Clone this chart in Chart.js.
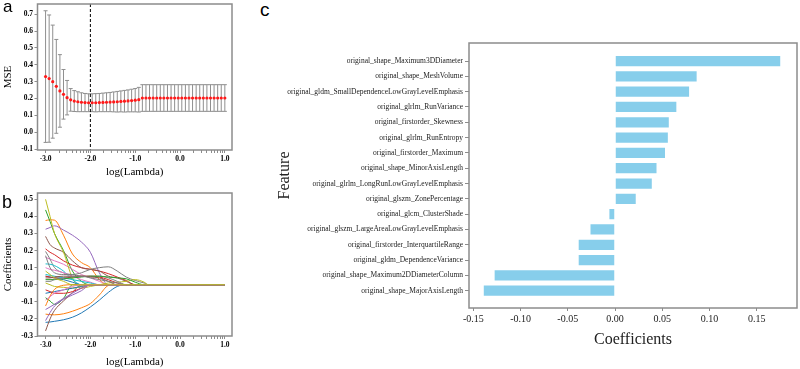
<!DOCTYPE html>
<html>
<head>
<meta charset="utf-8">
<script src="https://cdn.jsdelivr.net/npm/chart.js@4.4.1/dist/chart.umd.min.js"></script>
<style>
  html, body { margin: 0; padding: 0; background: #fff; }
  body { width: 800px; height: 369px; position: relative; overflow: hidden; }
  canvas { position: absolute; }
  .tag { position: absolute; font-family: 'Liberation Sans', Arial, sans-serif; color: #000; line-height: 1; }
</style>
</head>
<body>
<canvas id="mseChart" width="240" height="182" style="left:0;top:0"></canvas>
<canvas id="pathChart" width="240" height="187" style="left:0;top:182px"></canvas>
<canvas id="coefChart" width="530" height="369" style="left:270px;top:0"></canvas>
<div class="tag" style="left:3px;top:-2px;font-size:17px">a</div>
<div class="tag" style="left:2px;top:193px;font-size:18px">b</div>
<div class="tag" style="left:260px;top:0px;font-size:19px">c</div>
<script>
// ---- panel a: cross-validated MSE along the lambda path ----
const logLambda = [-3.00,-2.92,-2.84,-2.76,-2.68,-2.60,-2.52,-2.44,-2.36,-2.28,-2.20,-2.12,-2.04,
  -1.96,-1.88,-1.80,-1.72,-1.64,-1.56,-1.48,-1.40,-1.32,-1.24,-1.16,-1.08,-1.00,-0.92,-0.84,-0.76,
  -0.68,-0.60,-0.52,-0.44,-0.36,-0.28,-0.20,-0.12,-0.04,0.04,0.12,0.20,0.28,0.36,0.44,0.52,0.60,
  0.68,0.76,0.84,0.92,1.00];
const mseMean = [0.330,0.318,0.300,0.272,0.245,0.225,0.205,0.192,0.185,0.181,0.178,0.176,0.175,
  0.175,0.175,0.176,0.177,0.178,0.179,0.180,0.181,0.183,0.184,0.186,0.188,0.190,0.193,0.203,0.203,
  0.203,0.203,0.203,0.203,0.203,0.203,0.203,0.203,0.203,0.203,0.203,0.203,0.203,0.203,0.203,0.203,
  0.203,0.203,0.203,0.203,0.203,0.203];
const mseErr = [0.390,0.377,0.335,0.278,0.215,0.147,0.102,0.067,0.062,0.059,0.056,0.054,0.053,
  0.053,0.054,0.054,0.055,0.056,0.057,0.059,0.061,0.062,0.064,0.065,0.067,0.069,0.073,0.079,0.079,
  0.079,0.079,0.079,0.079,0.079,0.079,0.079,0.079,0.079,0.079,0.079,0.079,0.079,0.079,0.079,0.079,
  0.079,0.079,0.079,0.079,0.079,0.079];
const bestLogLambda = -2.0;
const mseTicks = [-0.1, 0.0, 0.1, 0.2, 0.3, 0.4, 0.5, 0.6, 0.7];

// ---- panel b: coefficient paths ----
const pathX = [-3.0,-2.9,-2.8,-2.6,-2.4,-2.2,-2.0,-1.8,-1.6,-1.4,-1.2,-1.0,-0.8,-0.7,1.0];
const coefPaths = [
  [-0.220,-0.218,-0.214,-0.205,-0.190,-0.165,-0.130,-0.090,-0.045,-0.010,0,0,0,0,0],
  [0.376,0.380,0.378,0.290,0.180,0.130,0.100,0.030,0,0,0,0,0,0,0],
  [0.438,0.370,0.300,0.200,0.080,0.020,0,0,0,0,0,0,0,0,0],
  [0.210,0.190,0.176,0.140,0.115,0.100,0.090,0.080,0.065,0.045,0.025,0,0,0,0],
  [0.325,0.335,0.345,0.320,0.290,0.250,0.190,0.070,0,0,0,0,0,0,0],
  [0.283,0.235,0.215,0.190,0.140,0.100,0.090,0.080,0.050,0.040,0.020,0,0,0,0],
  [0.160,0.150,0.140,0.120,0.090,0.060,0.040,0.020,0,0,0,0,0,0,0],
  [0.195,0.150,0.100,0.070,0.060,0.070,0.090,0.100,0.105,0.080,0.045,0.025,0.010,0,0],
  [0.500,0.400,0.300,0.190,0.040,-0.020,-0.010,0,0.010,0.015,0.020,0.030,0.015,0,0],
  [0.122,0.120,0.112,0.080,0.030,0,0,0,0,0,0,0,0,0,0],
  [0.050,0.045,0.040,0.030,0.015,0,0,0,0,0,0,0,0,0,0],
  [-0.172,-0.175,-0.176,-0.170,-0.155,-0.135,-0.110,-0.060,-0.005,0,0,0,0,0,0],
  [-0.076,-0.095,-0.115,-0.080,0,0,0,0,0,0,0,0,0,0,0],
  [0.050,0.045,0.040,0.040,0.045,0.050,0.050,0.045,0.030,0.010,0,0,0,0,0],
  [-0.210,-0.163,-0.125,-0.085,-0.060,-0.035,0,0,0,0,0,0,0,0,0],
  [-0.270,-0.200,-0.150,-0.095,-0.045,0,0,0,0,0,0,0,0,0,0],
  [0.100,0.090,0.085,0.070,0.050,0.030,0.015,0,0,0,0,0,0,0,0],
  [0.170,0.100,0.070,0.060,0.060,0.050,0.050,0.050,0.040,0.020,0,0,0,0,0],
  [0.010,0,-0.010,-0.015,-0.020,-0.010,0,0,0,0,0,0,0,0,0],
  [0.060,0.055,0.050,0.040,0.030,0.020,0.010,0,0,0,0,0,0,0,0],
  [-0.050,-0.045,-0.040,-0.030,-0.020,-0.010,0,0,0,0,0,0,0,0,0],
  [-0.124,-0.066,-0.027,-0.003,0,0,0,0,0,0,0,0,0,0,0],
  [0.030,0.030,0.030,0.035,0.040,0.045,0.050,0.050,0.045,0.040,0.035,0.015,0,0,0],
  [-0.030,-0.040,-0.050,-0.050,-0.040,-0.020,0,0,0,0,0,0,0,0,0],
  [-0.145,-0.130,-0.114,-0.080,-0.050,-0.020,0,0,0,0,0,0,0,0,0],
  [0.040,0.040,0.045,0.050,0.050,0.050,0.045,0.040,0.020,0,0,0,0,0,0],
  [-0.090,-0.070,-0.050,-0.030,-0.010,0,0,0,0,0,0,0,0,0,0],
  [0.020,0.020,0.030,0.040,0.050,0.050,0.040,0.030,0.020,0.010,0,0,0,0,0],
  [0.080,0.060,0.040,0.020,0,0,0,0,0,0,0,0,0,0,0]
];
const pathTicks = [-0.3, -0.2, -0.1, 0.0, 0.1, 0.2, 0.3, 0.4, 0.5];
const palette = ['#1f77b4','#ff7f0e','#2ca02c','#d62728','#9467bd','#8c564b','#e377c2','#7f7f7f','#bcbd22','#17becf'];

// ---- panel c: selected features ----
const featureNames = [
  'original_shape_Maximum3DDiameter',
  'original_shape_MeshVolume',
  'original_gldm_SmallDependenceLowGrayLevelEmphasis',
  'original_glrlm_RunVariance',
  'original_firstorder_Skewness',
  'original_glrlm_RunEntropy',
  'original_firstorder_Maximum',
  'original_shape_MinorAxisLength',
  'original_glrlm_LongRunLowGrayLevelEmphasis',
  'original_glszm_ZonePercentage',
  'original_glcm_ClusterShade',
  'original_glszm_LargeAreaLowGrayLevelEmphasis',
  'original_firstorder_InterquartileRange',
  'original_gldm_DependenceVariance',
  'original_shape_Maximum2DDiameterColumn',
  'original_shape_MajorAxisLength'
];
const featureCoefs = [0.176, 0.0875, 0.0795, 0.066, 0.058, 0.057, 0.054, 0.045, 0.040, 0.023,
  -0.007, -0.027, -0.0395, -0.0395, -0.1285, -0.140];
const coefTicks = [-0.15, -0.10, -0.05, 0.00, 0.05, 0.10, 0.15];

Chart.defaults.font.family = "'Liberation Serif', 'Times New Roman', serif";
Chart.defaults.animation = false;

const frameColor = '#8c8c8c';
const boxPlugin = {
  id: 'box',
  afterDraw(chart) {
    const { ctx, chartArea: a } = chart;
    ctx.save();
    ctx.strokeStyle = frameColor;
    ctx.lineWidth = 1.5;
    ctx.strokeRect(a.left, a.top, a.right - a.left, a.bottom - a.top);
    ctx.restore();
  }
};

// log-style tick marks of the lambda axis, labels only on whole decades
const lambdaTicks = [];
[-3, -2, -1, 0].forEach(d => {
  for (let k = 1; k <= 9; k++) lambdaTicks.push(d + Math.log10(k));
});
lambdaTicks.push(1);

const smallBold = { size: 7.5, weight: 'bold' };
const axisTitleFont = { size: 11 };

function lambdaAxis(axisHeight, labelPad, titlePad) {
  return {
    type: 'linear', min: -3.18, max: 1.16,
    afterBuildTicks: s => { s.ticks = lambdaTicks.map(v => ({ value: v })); },
    afterFit: s => { s.height = axisHeight; s.paddingLeft = 0; s.paddingRight = 0; },
    ticks: {
      autoSkip: false, maxRotation: 0, font: smallBold, color: '#000', padding: labelPad,
      callback: v => Math.abs(v - Math.round(v)) < 1e-9 ? v.toFixed(1) : ''
    },
    grid: { drawOnChartArea: false, tickLength: 3, color: frameColor },
    border: { display: false },
    title: { display: true, text: 'log(Lambda)', font: axisTitleFont, color: '#000', padding: { top: 0, bottom: titlePad } }
  };
}

function valueAxis(min, max, tickList, title) {
  return {
    type: 'linear', min: min, max: max,
    afterBuildTicks: s => { s.ticks = tickList.map(v => ({ value: v })); },
    afterFit: s => { s.width = 37.5; s.paddingTop = 0; s.paddingBottom = 0; },
    ticks: { autoSkip: false, font: smallBold, color: '#000', padding: 1.5, callback: v => v.toFixed(1) },
    grid: { drawOnChartArea: false, tickLength: 3, color: frameColor },
    border: { display: false },
    title: { display: true, text: title, font: axisTitleFont, color: '#000', padding: { top: 1.4, bottom: 0 } }
  };
}

const errorBarPlugin = {
  id: 'errorBars',
  beforeDatasetsDraw(chart) {
    const { ctx, chartArea, scales: { x, y } } = chart;
    ctx.save();
    ctx.strokeStyle = '#8f8f8f';
    ctx.lineWidth = 1;
    logLambda.forEach((v, i) => {
      const px = x.getPixelForValue(v);
      const top = y.getPixelForValue(mseMean[i] + mseErr[i]);
      const bot = y.getPixelForValue(mseMean[i] - mseErr[i]);
      ctx.beginPath();
      ctx.moveTo(px, top); ctx.lineTo(px, bot);
      ctx.moveTo(px - 2, top); ctx.lineTo(px + 2, top);
      ctx.moveTo(px - 2, bot); ctx.lineTo(px + 2, bot);
      ctx.stroke();
    });
    const bx = x.getPixelForValue(bestLogLambda);
    ctx.strokeStyle = '#000';
    ctx.setLineDash([3, 2]);
    ctx.beginPath();
    ctx.moveTo(bx, chartArea.top);
    ctx.lineTo(bx, chartArea.bottom);
    ctx.stroke();
    ctx.restore();
  }
};

new Chart(document.getElementById('mseChart'), {
  type: 'scatter',
  data: {
    datasets: [{
      data: logLambda.map((v, i) => ({ x: v, y: mseMean[i] })),
      backgroundColor: '#ff1a1a', borderWidth: 0, pointRadius: 1.6
    }]
  },
  options: {
    responsive: false,
    layout: { padding: { top: 4, right: 8, bottom: 0, left: 0 } },
    plugins: { legend: { display: false }, tooltip: { enabled: false } },
    scales: {
      x: lambdaAxis(32, 1.5, 3.4),
      y: valueAxis(-0.105, 0.76, mseTicks, 'MSE')
    }
  },
  plugins: [errorBarPlugin, boxPlugin]
});

new Chart(document.getElementById('pathChart'), {
  type: 'line',
  data: {
    // later paths drawn on top, as in the original plot
    datasets: coefPaths.map((path, k) => ({
      data: pathX.map((v, i) => ({ x: v, y: path[i] })),
      borderColor: palette[k % palette.length],
      borderWidth: 1, pointRadius: 0, fill: false,
      cubicInterpolationMode: 'monotone',
      order: coefPaths.length - k
    }))
  },
  options: {
    responsive: false,
    layout: { padding: { top: 11, right: 8, bottom: 0, left: 0 } },
    plugins: { legend: { display: false }, tooltip: { enabled: false } },
    scales: {
      x: lambdaAxis(33, 2, 0.7),
      y: valueAxis(-0.3, 0.537, pathTicks, 'Coefficients')
    }
  },
  plugins: [boxPlugin]
});

new Chart(document.getElementById('coefChart'), {
  type: 'bar',
  data: {
    datasets: [{
      data: featureCoefs.map((v, i) => ({ x: v, y: i })),
      backgroundColor: '#87ceeb', borderColor: '#ffffff', borderWidth: 1,
      categoryPercentage: 1, barPercentage: 0.8
    }]
  },
  options: {
    indexAxis: 'y',
    responsive: false,
    layout: { padding: { top: 43, right: 3, bottom: 20, left: 0 } },
    plugins: { legend: { display: false }, tooltip: { enabled: false } },
    scales: {
      x: {
        type: 'linear', min: -0.1546, max: 0.1927,
        afterBuildTicks: s => { s.ticks = coefTicks.map(v => ({ value: v })); },
        afterFit: s => { s.height = 41; s.paddingLeft = 0; s.paddingRight = 0; },
        ticks: { autoSkip: false, maxRotation: 0, font: { size: 10 }, color: '#222', padding: 2.3, callback: v => v.toFixed(2) },
        grid: { drawOnChartArea: false, tickLength: 3, color: frameColor },
        border: { display: false },
        title: { display: true, text: 'Coefficients', font: { size: 16 }, color: '#222', padding: { top: 0, bottom: 0 } }
      },
      y: {
        type: 'linear', reverse: true, offset: false, min: -1.18, max: 16.13,
        afterBuildTicks: s => { s.ticks = featureNames.map((_, i) => ({ value: i })); },
        afterFit: s => { s.width = 199; s.paddingTop = 0; s.paddingBottom = 0; },
        ticks: { autoSkip: false, font: { size: 7.5 }, color: '#222', padding: 2, callback: v => featureNames[v] },
        grid: { drawOnChartArea: false, offset: false, tickLength: 4, color: frameColor },
        border: { display: false },
        title: { display: true, text: 'Feature', font: { size: 16 }, color: '#222', padding: { top: 5.4, bottom: 0 } }
      }
    }
  },
  plugins: [boxPlugin]
});
</script>
</body>
</html>
